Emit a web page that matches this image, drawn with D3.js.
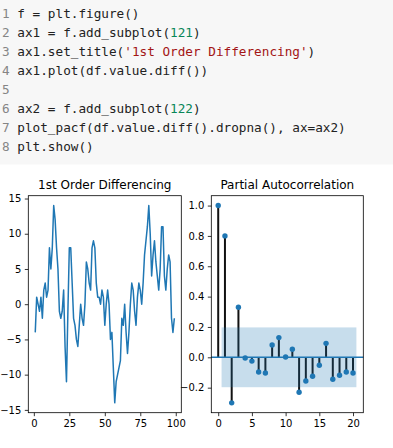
<!DOCTYPE html>
<html>
<head>
<meta charset="utf-8">
<script src="https://cdn.jsdelivr.net/npm/d3@7"></script>
<style>
body { margin: 0; background: #fff; }
svg { display: block; }
</style>
</head>
<body>
<div id="chart"></div>
<script>
// first differences of the series, plotted at x = 1..99
var diffValues = [
    -4, 1, 0, -1, 1, -2, 2, 3, 1, 2,
    8, 5, 8, 14, 12, 8, 5, -1, -2, -1,
    2, -6, -11, -1, 8, 8, 3, -2, -3, -5,
    -6, -3, 0, -2, -3, 0, 6, 5, 3, 2,
    8, 9, 8, 3, 1, 1, 0, 2, 1, -3,
    0, 2, 0, -5, -4, -9, -14, -11, -10, -9,
    -8, -2, -3, 0, -4, -7, -4, 0, 3, 2,
    -1, -3, 1, 3, 2, 0, 3, 7, 9, 11,
    14, 10, 4, 7, 9, 6, 4, 2, 5, 11,
    11, 4, 2, 5, 7, 6, -2, -4, -2
];
var diffXTicks = [0, 25, 50, 75, 100];
var diffYTicks = [-15, -10, -5, 0, 5, 10, 15];

// partial autocorrelation, lags 0..20
var pacfLags = [0, 1, 2, 3, 4, 5, 6, 7, 8, 9, 10, 11, 12, 13, 14, 15, 16, 17, 18, 19, 20];
var pacfValues = [1.0, 0.80, -0.30, 0.33, -0.005, -0.025, -0.097, -0.103, 0.081, 0.13,
    0.002, 0.053, -0.23, -0.156, -0.125, -0.052, 0.092, -0.145, -0.118, -0.097, -0.103];
var pacfConf = 0.197;
var pacfXTicks = [0, 5, 10, 15, 20];
var pacfYTicks = [-0.2, 0, 0.2, 0.4, 0.6, 0.8, 1.0];

// the code cell shown above the figure
var codeLines = [
    [["f = plt.figure()", "t"]],
    [["ax1 = f.add_subplot(", "t"], ["121", "n"], [")", "t"]],
    [["ax1.set_title(", "t"], ["'1st Order Differencing'", "s"], [")", "t"]],
    [["ax1.plot(df.value.diff())", "t"]],
    [],
    [["ax2 = f.add_subplot(", "t"], ["122", "n"], [")", "t"]],
    [["plot_pacf(df.value.diff().dropna(), ax=ax2)", "t"]],
    [["plt.show()", "t"]]
];
var codeColors = {t: "#222222", n: "#098658", s: "#a31515"};

var W = 393, H = 448;
var C0 = "#1f77b4";
var font = "'DejaVu Sans', sans-serif";

var svg = d3.select("#chart").append("svg")
    .attr("width", W)
    .attr("height", H);

/**
 *  Code cell
 */
svg.append("rect")
    .attr("x", 0).attr("y", 0)
    .attr("width", W).attr("height", 164.5)
    .attr("fill", "#f7f7f7");

var code = svg.append("g")
    .attr("font-family", "'DejaVu Sans Mono', monospace")
    .attr("font-size", 12.7);

codeLines.forEach(function (line, i) {
    var y = 18 + i * 19;
    code.append("text")
        .attr("x", 2).attr("y", y)
        .attr("fill", "#858585")
        .text(i + 1);
    var t = code.append("text")
        .attr("x", 17.3).attr("y", y)
        .attr("xml:space", "preserve");
    line.forEach(function (seg) {
        t.append("tspan").attr("fill", codeColors[seg[1]]).text(seg[0]);
    });
});

/**
 *  Figure
 */
var axTop = 195.7, axBottom = 412.7;
var leftBox = [28.3, 181.3], rightBox = [211.3, 363.3];

// matplotlib style 5% margins
function pad(ext) {
    var d = (ext[1] - ext[0]) * 0.05;
    return [ext[0] - d, ext[1] + d];
}

function drawAxes(g, x, y, xTicks, yTicks, yFmt, title) {
    var xa = g.append("g")
        .attr("transform", "translate(0," + axBottom + ")")
        .call(d3.axisBottom(x).tickValues(xTicks).tickSize(3.5).tickPadding(3.5).tickFormat(d3.format("d")));
    var ya = g.append("g")
        .attr("transform", "translate(" + x.range()[0] + ",0)")
        .call(d3.axisLeft(y).tickValues(yTicks).tickSize(3.5).tickPadding(3.5).tickFormat(d3.format(yFmt)));
    [xa, ya].forEach(function (a) {
        a.select(".domain").remove();
        a.attr("font-family", font).attr("font-size", 10).attr("color", "#000");
        a.selectAll("line").attr("stroke-width", 0.8);
    });
    g.append("rect")
        .attr("x", x.range()[0])
        .attr("y", axTop)
        .attr("width", x.range()[1] - x.range()[0])
        .attr("height", axBottom - axTop)
        .attr("fill", "none")
        .attr("stroke", "#000")
        .attr("stroke-width", 0.8);
    g.append("text")
        .attr("x", (x.range()[0] + x.range()[1]) / 2)
        .attr("y", axTop - 6.5)
        .attr("text-anchor", "middle")
        .attr("font-family", font)
        .attr("font-size", 12)
        .text(title);
}

// left: the differenced series
var diffIdx = diffValues.map(function (d, i) { return i + 1; });
var x1 = d3.scaleLinear().domain(pad(d3.extent(diffIdx))).range(leftBox);
var y1 = d3.scaleLinear().domain(pad(d3.extent(diffValues))).range([axBottom, axTop]);

var g1 = svg.append("g");
g1.append("path")
    .datum(diffValues)
    .attr("fill", "none")
    .attr("stroke", C0)
    .attr("stroke-width", 1.5)
    .attr("stroke-linejoin", "round")
    .attr("d", d3.line()
        .x(function (d, i) { return x1(diffIdx[i]); })
        .y(function (d) { return y1(d); }));
drawAxes(g1, x1, y1, diffXTicks, diffYTicks, "d", "1st Order Differencing");

// right: partial autocorrelation
var x2 = d3.scaleLinear().domain(pad([0, pacfLags[pacfLags.length - 1] + 0.5])).range(rightBox);
var y2 = d3.scaleLinear()
    .domain(pad([Math.min(d3.min(pacfValues), -pacfConf), d3.max(pacfValues)]))
    .range([axBottom, axTop]);

var g2 = svg.append("g");
g2.selectAll("line.stem")
    .data(pacfValues)
    .enter().append("line")
    .attr("class", "stem")
    .attr("x1", function (d, i) { return x2(pacfLags[i]); })
    .attr("x2", function (d, i) { return x2(pacfLags[i]); })
    .attr("y1", y2(0))
    .attr("y2", function (d) { return y2(d); })
    .attr("stroke", "#111")
    .attr("stroke-width", 2);

g2.append("line")
    .attr("x1", rightBox[0]).attr("x2", rightBox[1])
    .attr("y1", y2(0)).attr("y2", y2(0))
    .attr("stroke", C0)
    .attr("stroke-width", 1.5);

g2.selectAll("circle")
    .data(pacfValues)
    .enter().append("circle")
    .attr("cx", function (d, i) { return x2(pacfLags[i]); })
    .attr("cy", function (d) { return y2(d); })
    .attr("r", 2.7)
    .attr("fill", C0);

// confidence band drawn last, translucent
g2.append("rect")
    .attr("x", x2(pacfLags[1] - 0.5))
    .attr("y", y2(pacfConf))
    .attr("width", x2(pacfLags[pacfLags.length - 1] + 0.5) - x2(pacfLags[1] - 0.5))
    .attr("height", y2(-pacfConf) - y2(pacfConf))
    .attr("fill", C0)
    .attr("fill-opacity", 0.25);

drawAxes(g2, x2, y2, pacfXTicks, pacfYTicks, ".1f", "Partial Autocorrelation");
</script>
</body>
</html>
